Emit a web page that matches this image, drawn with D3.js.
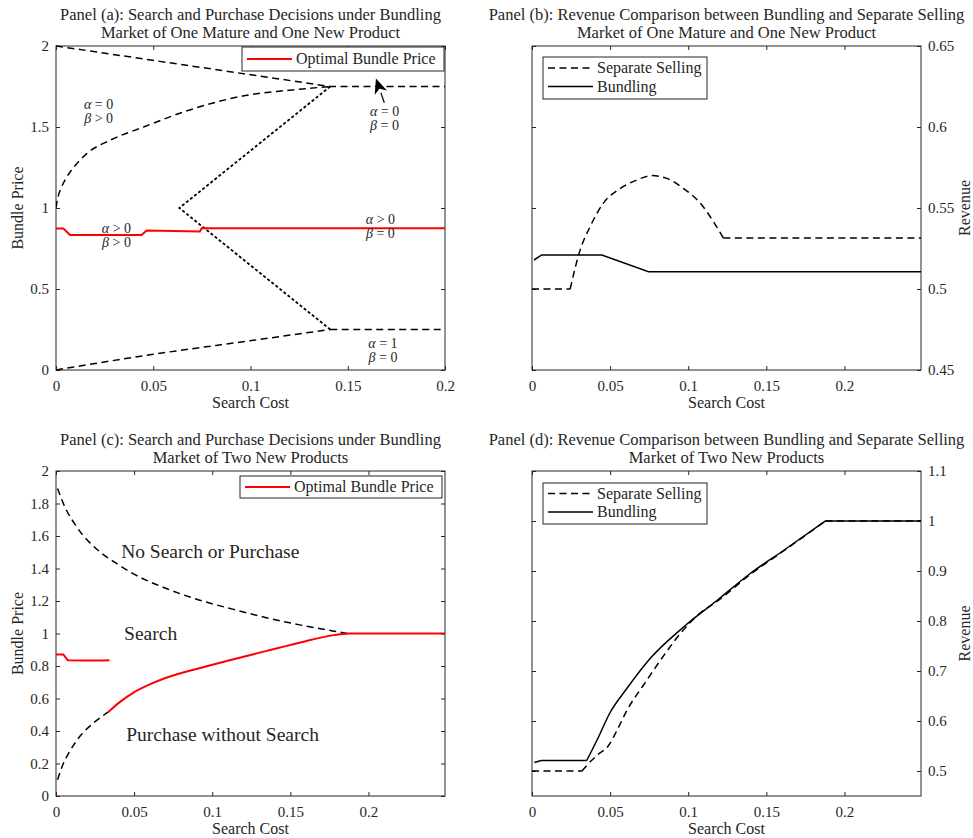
<!DOCTYPE html>
<html>
<head>
<meta charset="utf-8">
<script src="https://cdn.jsdelivr.net/npm/d3@7"></script>
<style>
  body { margin: 0; background: #fff; }
  text { font-family: "Liberation Serif", "Times New Roman", serif; fill: #262626; }
</style>
</head>
<body>
<svg id="chart" width="973" height="838"></svg>
<script>
// tick values
const xTicks = [0, 0.05, 0.1, 0.15, 0.2];
const yTicksA = [0, 0.5, 1, 1.5, 2];
const yTicksB = [0.45, 0.5, 0.55, 0.6, 0.65];
const yTicksC = [0, 0.2, 0.4, 0.6, 0.8, 1, 1.2, 1.4, 1.6, 1.8, 2];
const yTicksD = [0.5, 0.6, 0.7, 0.8, 0.9, 1, 1.1];

// panel (a): region boundaries and optimal price, [search cost, bundle price]
const aTop = [[0, 2], [0.141, 1.75], [0.2, 1.75]];
const aUpper = [[0, 1.0], [0.0007, 1.05], [0.0029, 1.13], [0.0055, 1.19], [0.0107, 1.274], [0.0158, 1.336],
  [0.0278, 1.418], [0.045, 1.50], [0.0674, 1.60], [0.1, 1.70], [0.12, 1.727], [0.141, 1.75]];
const aDotted = [[0.141, 1.75], [0.0634, 1.0], [0.141, 0.25]];
const aBottom = [[0, 0], [0.05, 0.097], [0.1, 0.181], [0.141, 0.25], [0.2, 0.25]];
const aPrice = [[0, 0.873], [0.0038, 0.873], [0.0072, 0.833], [0.044, 0.833], [0.0466, 0.861],
  [0.074, 0.855], [0.0749, 0.875], [0.2, 0.875]];

// panel (b): revenue
const bSeparate = [[0, 0.5], [0.0244, 0.5], [0.0308, 0.524], [0.0372, 0.5385], [0.0457, 0.553], [0.0564, 0.562],
  [0.0671, 0.5673], [0.0767, 0.570], [0.0863, 0.5683], [0.097, 0.562], [0.1077, 0.553], [0.1162, 0.5415],
  [0.1225, 0.5315], [0.249, 0.5315]];
const bBundle = [[0.0013, 0.5179], [0.0062, 0.521], [0.0447, 0.521], [0.0746, 0.5107], [0.249, 0.5107]];

// panel (c)
const cUpper = [[0.001, 1.893], [0.0047, 1.80], [0.0132, 1.657], [0.028, 1.503], [0.0387, 1.431], [0.049, 1.37],
  [0.0706, 1.277], [0.092, 1.205], [0.113, 1.15], [0.134, 1.099], [0.156, 1.053], [0.177, 1.016], [0.1866, 1.0]];
const cLower = [[0.001, 0.1], [0.0047, 0.2], [0.0085, 0.27], [0.016, 0.375], [0.0235, 0.445], [0.0335, 0.517]];
const cPriceLow = [[0, 0.871], [0.0047, 0.871], [0.0075, 0.836], [0.02, 0.834], [0.03, 0.834], [0.0342, 0.836]];
const cPriceHigh = [[0.0335, 0.517], [0.041, 0.579], [0.0496, 0.636], [0.0603, 0.688], [0.071, 0.729],
  [0.0923, 0.788], [0.1137, 0.842], [0.135, 0.893], [0.1564, 0.945], [0.1778, 0.99], [0.1874, 1.0], [0.249, 1.0]];

// panel (d)
const dSeparate = [[0, 0.5], [0.032, 0.5], [0.035, 0.511], [0.0415, 0.531], [0.049, 0.551], [0.055, 0.585],
  [0.0607, 0.621], [0.0714, 0.672], [0.0853, 0.735], [0.0949, 0.775], [0.1077, 0.816], [0.1184, 0.839],
  [0.1397, 0.893], [0.161, 0.94], [0.1878, 1.0], [0.249, 1.0]];
const dBundle = [[0.0015, 0.517], [0.006, 0.521], [0.035, 0.521], [0.0415, 0.561], [0.05, 0.617], [0.0607, 0.665],
  [0.0756, 0.725], [0.097, 0.788], [0.1184, 0.841], [0.1397, 0.895], [0.161, 0.941], [0.1878, 1.0], [0.249, 1.0]];

// annotation labels: [x, y, line1 greek, line1 rest, line2 greek, line2 rest]
const aNotes = [
  [0.0219, 1.642, "α", " = 0", "β", " > 0"],
  [0.1689, 1.599, "α", " = 0", "β", " = 0"],
  [0.0311, 0.877, "α", " > 0", "β", " > 0"],
  [0.1668, 0.932, "α", " > 0", "β", " = 0"],
  [0.1681, 0.167, "α", " = 1", "β", " = 0"]
];
const aArrow = [[0.1688, 1.65], [0.1645, 1.80]];
const cNotes = [
  [0.0417, 1.509, "No Search or Purchase"],
  [0.0436, 1.002, "Search"],
  [0.0449, 0.38, "Purchase without Search"]
];

const svg = d3.select("#chart");
const fmt = d3.format("~g");
const axisColor = "#262626";

// split a series at corner indices so the smooth curve keeps sharp kinks
function pieces(data, breaks) {
  if (!breaks || !breaks.length) return [data];
  const out = [];
  let start = 0;
  breaks.forEach(b => { out.push(data.slice(start, b + 1)); start = b; });
  out.push(data.slice(start));
  return out;
}

function panel(o) {
  const g = svg.append("g");
  const x = d3.scaleLinear().domain(o.xDomain).range([o.left, o.right]);
  const y = d3.scaleLinear().domain(o.yDomain).range([o.bottom, o.top]);

  const styleAxis = sel => {
    sel.attr("font-family", null);
    sel.select(".domain").remove();
    sel.selectAll(".tick line").attr("stroke", axisColor);
    sel.selectAll("text").style("font-size", "15px").attr("fill", axisColor);
  };

  g.append("g").attr("transform", `translate(0,${o.bottom})`)
    .call(d3.axisBottom(x).tickValues(xTicks).tickFormat(fmt).tickSizeInner(-4).tickSizeOuter(0).tickPadding(10))
    .call(styleAxis);
  g.append("g").attr("transform", `translate(0,${o.top})`)
    .call(d3.axisTop(x).tickValues(xTicks).tickFormat("").tickSizeInner(-4).tickSizeOuter(0))
    .call(styleAxis);
  g.append("g").attr("transform", `translate(${o.left},0)`)
    .call(d3.axisLeft(y).tickValues(o.yTicks).tickFormat(o.yRight ? "" : fmt).tickSizeInner(-4).tickSizeOuter(0).tickPadding(7))
    .call(styleAxis);
  g.append("g").attr("transform", `translate(${o.right},0)`)
    .call(d3.axisRight(y).tickValues(o.yTicks).tickFormat(o.yRight ? fmt : "").tickSizeInner(-4).tickSizeOuter(0).tickPadding(7))
    .call(styleAxis);

  g.append("rect")
    .attr("x", o.left).attr("y", o.top)
    .attr("width", o.right - o.left).attr("height", o.bottom - o.top)
    .attr("fill", "none").attr("stroke", axisColor).attr("stroke-width", 1);

  const clip = "clip-" + o.id;
  svg.append("clipPath").attr("id", clip).append("rect")
    .attr("x", o.left).attr("y", o.top - 2)
    .attr("width", o.right - o.left).attr("height", o.bottom - o.top + 4);

  const plot = g.append("g").attr("clip-path", `url(#${clip})`);
  o.series.forEach(s => {
    const line = d3.line().x(d => x(d[0])).y(d => y(d[1])).curve(s.curve || d3.curveLinear);
    plot.append("path")
      .datum(s.data)
      .attr("d", d => pieces(d, s.breaks).map(p => line(p)).join(""))
      .attr("fill", "none")
      .attr("stroke", s.color)
      .attr("stroke-width", s.width)
      .attr("stroke-dasharray", s.dash || null);
  });

  // titles
  const cx = (o.left + o.right) / 2;
  g.append("text").attr("x", cx).attr("y", o.top - 26).attr("text-anchor", "middle")
    .style("font-size", "16.5px").attr("fill", "#000").text(o.title[0]);
  g.append("text").attr("x", cx).attr("y", o.top - 8.5).attr("text-anchor", "middle")
    .style("font-size", "16.5px").attr("fill", "#000").text(o.title[1]);

  g.append("text").attr("x", cx).attr("y", o.bottom + 38).attr("text-anchor", "middle")
    .style("font-size", "16px").text("Search Cost");

  const cy = (o.top + o.bottom) / 2;
  const lx = o.yRight ? 970 : 23;
  g.append("text").attr("transform", `translate(${lx},${cy}) rotate(-90)`).attr("text-anchor", "middle")
    .style("font-size", "16px").text(o.yLabel);

  // legend
  const L = o.legend;
  g.append("rect").attr("x", L.x).attr("y", L.y).attr("width", L.w).attr("height", L.h)
    .attr("fill", "#fff").attr("stroke", axisColor).attr("stroke-width", 1);
  L.items.forEach((it, i) => {
    const ly = L.y + L.row0 + i * L.step;
    g.append("line").attr("x1", L.x + 5).attr("x2", L.x + 50).attr("y1", ly).attr("y2", ly)
      .attr("stroke", it.color).attr("stroke-width", it.width).attr("stroke-dasharray", it.dash || null);
    g.append("text").attr("x", L.x + 54).attr("y", ly).attr("dy", "0.33em")
      .style("font-size", "16px").attr("fill", "#000").text(it.label);
  });

  return { g, x, y };
}

const dash = "7,4.5";
const smooth = d3.curveMonotoneX;

const A = panel({
  id: "a", left: 56, right: 445, top: 46, bottom: 370,
  xDomain: [0, 0.2], yDomain: [0, 2], yTicks: yTicksA, yRight: false, yLabel: "Bundle Price",
  title: ["Panel (a): Search and Purchase Decisions under Bundling", "Market of One Mature and One New Product"],
  series: [
    { data: aTop, color: "#000", width: 1.5, dash: dash },
    { data: aUpper, color: "#000", width: 1.5, dash: dash, curve: smooth },
    { data: aDotted, color: "#000", width: 1.8, dash: "3,2.2" },
    { data: aBottom, color: "#000", width: 1.5, dash: dash, curve: smooth, breaks: [3] },
    { data: aPrice, color: "#ff0000", width: 2 }
  ],
  legend: { x: 242, y: 47, w: 202, h: 24, row0: 12, step: 0,
    items: [{ label: "Optimal Bundle Price", color: "#ff0000", width: 2 }] }
});

aNotes.forEach(n => {
  [[n[2], n[3], 0], [n[4], n[5], 14]].forEach(([gr, rest, off]) => {
    const t = A.g.append("text").attr("x", A.x(n[0])).attr("y", A.y(n[1]) + off).attr("dy", "0.35em")
      .attr("text-anchor", "middle").style("font-size", "14px").attr("fill", "#3a3a3a");
    t.append("tspan").style("font-style", "italic").text(gr);
    t.append("tspan").text(rest);
  });
});

// arrow pointing at the legend
{
  const p0 = [A.x(aArrow[0][0]), A.y(aArrow[0][1])];
  const p1 = [A.x(aArrow[1][0]), A.y(aArrow[1][1])];
  const ang = Math.atan2(p1[1] - p0[1], p1[0] - p0[0]);
  const len = 15, half = 6.5;
  const bx = p1[0] - len * Math.cos(ang), by = p1[1] - len * Math.sin(ang);
  A.g.append("line").attr("x1", p0[0]).attr("y1", p0[1]).attr("x2", bx).attr("y2", by)
    .attr("stroke", "#000").attr("stroke-width", 1.2);
  const nx = -Math.sin(ang), ny = Math.cos(ang);
  const notch = 4;
  const mx = bx + notch * Math.cos(ang), my = by + notch * Math.sin(ang);
  A.g.append("path")
    .attr("d", `M${p1[0]},${p1[1]}L${bx + half * nx},${by + half * ny}L${mx},${my}L${bx - half * nx},${by - half * ny}Z`)
    .attr("fill", "#000");
}

panel({
  id: "b", left: 532, right: 921, top: 46, bottom: 370,
  xDomain: [0, 0.249], yDomain: [0.45, 0.65], yTicks: yTicksB, yRight: true, yLabel: "Revenue",
  title: ["Panel (b): Revenue Comparison between Bundling and Separate Selling", "Market of One Mature and One New Product"],
  series: [
    { data: bSeparate, color: "#000", width: 1.5, dash: dash, curve: smooth, breaks: [1, 12] },
    { data: bBundle, color: "#000", width: 1.5 }
  ],
  legend: { x: 543, y: 57, w: 164, h: 42, row0: 11, step: 18.5,
    items: [
      { label: "Separate Selling", color: "#000", width: 1.5, dash: "7,4.5" },
      { label: "Bundling", color: "#000", width: 1.5 }
    ] }
});

const C = panel({
  id: "c", left: 56, right: 445, top: 471, bottom: 796,
  xDomain: [0, 0.249], yDomain: [0, 2], yTicks: yTicksC, yRight: false, yLabel: "Bundle Price",
  title: ["Panel (c): Search and Purchase Decisions under Bundling", "Market of Two New Products"],
  series: [
    { data: cUpper, color: "#000", width: 1.5, dash: dash, curve: smooth },
    { data: cLower, color: "#000", width: 1.5, dash: dash, curve: smooth },
    { data: cPriceLow, color: "#ff0000", width: 2 },
    { data: cPriceHigh, color: "#ff0000", width: 2, curve: smooth, breaks: [10] }
  ],
  legend: { x: 240, y: 476, w: 202, h: 22, row0: 11, step: 0,
    items: [{ label: "Optimal Bundle Price", color: "#ff0000", width: 2 }] }
});

cNotes.forEach(n => {
  C.g.append("text").attr("x", C.x(n[0])).attr("y", C.y(n[1])).attr("dy", "0.35em")
    .style("font-size", "19.5px").attr("fill", "#1a1a1a").text(n[2]);
});

panel({
  id: "d", left: 532, right: 921, top: 471, bottom: 796,
  xDomain: [0, 0.249], yDomain: [0.45, 1.1], yTicks: yTicksD, yRight: true, yLabel: "Revenue",
  title: ["Panel (d): Revenue Comparison between Bundling and Separate Selling", "Market of Two New Products"],
  series: [
    { data: dSeparate, color: "#000", width: 1.5, dash: dash, curve: smooth, breaks: [1, 14] },
    { data: dBundle, color: "#000", width: 1.5, curve: smooth, breaks: [1, 2, 11] }
  ],
  legend: { x: 543, y: 483, w: 164, h: 41, row0: 10.5, step: 18.5,
    items: [
      { label: "Separate Selling", color: "#000", width: 1.5, dash: "7,4.5" },
      { label: "Bundling", color: "#000", width: 1.5 }
    ] }
});
</script>
</body>
</html>
